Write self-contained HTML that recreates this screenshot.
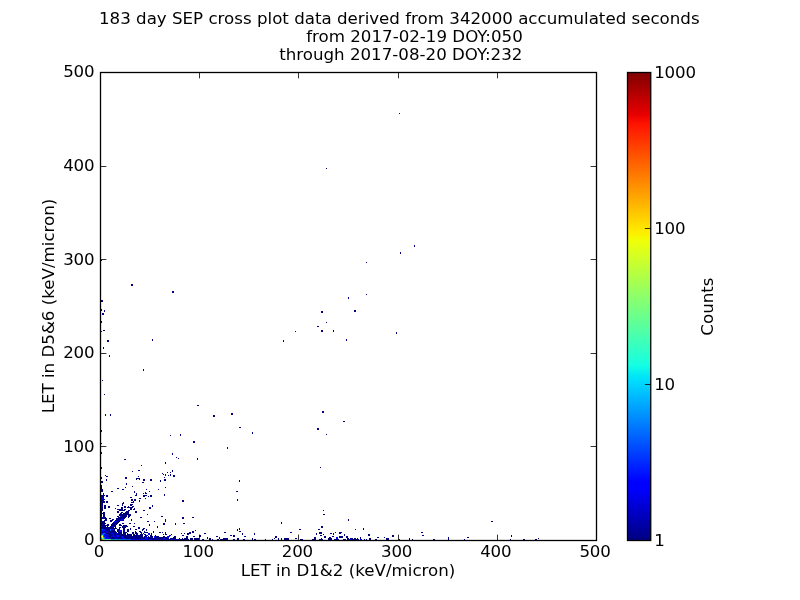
<!DOCTYPE html>
<html><head><meta charset="utf-8"><title>SEP cross plot</title>
<style>html,body{margin:0;padding:0;background:#fff}svg{display:block}</style></head>
<body>
<svg width="800" height="600" viewBox="0 0 800 600">
<defs>
<linearGradient id="jet" x1="0" y1="1" x2="0" y2="0">
<stop offset="0.0" stop-color="#000080"/>
<stop offset="0.11" stop-color="#0000ff"/>
<stop offset="0.125" stop-color="#0000ff"/>
<stop offset="0.34" stop-color="#00dbff"/>
<stop offset="0.35" stop-color="#00e5f7"/>
<stop offset="0.375" stop-color="#15ffe2"/>
<stop offset="0.64" stop-color="#efff08"/>
<stop offset="0.65" stop-color="#f7f600"/>
<stop offset="0.66" stop-color="#ffec00"/>
<stop offset="0.89" stop-color="#ff1300"/>
<stop offset="0.91" stop-color="#e80000"/>
<stop offset="1.0" stop-color="#800000"/>
</linearGradient>
</defs>
<rect width="800" height="600" fill="#fff"/>
<g id="data" shape-rendering="crispEdges">
<path fill="#000080" d="M399 113h1v1h-1zM326 168h1v1h-1zM414 245h1v1h-1zM414 246h1v1h-1zM400 252h1v1h-1zM400 253h1v1h-1zM101 260h1v1h-1zM366 262h1v1h-1zM131 284h2v1h-2zM131 285h2v1h-2zM172 291h2v1h-2zM172 292h2v1h-2zM366 294h1v1h-1zM348 297h1v1h-1zM348 298h1v1h-1zM101 300h2v1h-2zM101 301h2v1h-2zM101 309h1v1h-1zM101 310h1v1h-1zM104 310h1v1h-1zM354 310h2v1h-2zM104 311h1v1h-1zM321 311h2v1h-2zM354 311h2v1h-2zM321 312h2v1h-2zM102 313h2v1h-2zM102 314h2v1h-2zM101 321h1v1h-1zM101 322h1v1h-1zM326 322h1v1h-1zM317 326h2v1h-2zM103 330h2v1h-2zM321 330h2v1h-2zM333 330h1v1h-1zM101 331h1v1h-1zM295 331h1v1h-1zM321 331h2v1h-2zM333 331h1v1h-1zM396 332h1v1h-1zM396 333h1v1h-1zM152 339h1v1h-1zM346 339h1v1h-1zM107 340h2v1h-2zM152 340h1v1h-1zM283 340h1v1h-1zM346 340h1v1h-1zM107 341h2v1h-2zM283 341h1v1h-1zM103 347h1v1h-1zM103 348h1v1h-1zM109 355h1v1h-1zM109 356h1v1h-1zM143 369h1v1h-1zM143 370h1v1h-1zM102 380h1v1h-1zM104 394h1v1h-1zM197 405h2v1h-2zM322 411h2v1h-2zM322 412h2v1h-2zM231 413h2v1h-2zM105 414h1v1h-1zM110 414h1v1h-1zM231 414h2v1h-2zM105 415h1v1h-1zM110 415h1v1h-1zM213 415h2v1h-2zM213 416h2v1h-2zM343 421h2v1h-2zM239 427h2v1h-2zM317 428h2v1h-2zM317 429h2v1h-2zM101 430h1v1h-1zM101 431h1v1h-1zM252 432h1v1h-1zM252 433h1v1h-1zM180 434h1v1h-1zM326 434h1v1h-1zM170 435h1v1h-1zM180 435h1v1h-1zM193 441h2v1h-2zM193 442h2v1h-2zM101 443h1v1h-1zM227 447h1v1h-1zM227 448h1v1h-1zM101 452h1v1h-1zM101 453h1v1h-1zM172 453h1v1h-1zM172 454h1v1h-1zM176 457h1v1h-1zM178 458h1v1h-1zM197 458h1v1h-1zM124 459h2v1h-2zM197 459h1v1h-1zM165 462h1v1h-1zM165 463h1v1h-1zM141 465h1v1h-1zM101 467h1v1h-1zM320 467h1v1h-1zM101 468h1v1h-1zM138 470h2v1h-2zM172 470h1v1h-1zM132 471h1v1h-1zM172 471h1v1h-1zM167 472h1v1h-1zM170 472h1v1h-1zM162 473h1v1h-1zM163 474h1v1h-1zM165 474h1v1h-1zM170 474h1v1h-1zM105 475h1v1h-1zM165 475h1v1h-1zM168 475h1v1h-1zM170 475h1v1h-1zM173 475h2v1h-2zM106 476h2v1h-2zM138 476h1v1h-1zM173 476h2v1h-2zM101 477h1v1h-1zM125 477h2v1h-2zM164 477h1v1h-1zM101 478h1v1h-1zM125 478h2v1h-2zM136 478h4v1h-4zM106 479h1v1h-1zM136 479h1v1h-1zM139 479h1v1h-1zM143 479h2v1h-2zM150 479h2v1h-2zM164 479h2v1h-2zM106 480h1v1h-1zM143 480h2v1h-2zM150 480h2v1h-2zM160 480h1v1h-1zM164 480h2v1h-2zM239 480h1v1h-1zM101 481h2v1h-2zM160 481h1v1h-1zM239 481h1v1h-1zM101 482h2v1h-2zM142 482h2v1h-2zM126 483h1v1h-1zM126 484h1v1h-1zM101 485h1v1h-1zM101 486h1v1h-1zM132 486h1v1h-1zM101 487h1v1h-1zM125 487h1v1h-1zM165 487h1v1h-1zM101 488h1v1h-1zM117 488h2v1h-2zM101 489h2v1h-2zM122 489h2v1h-2zM146 489h1v1h-1zM158 489h1v1h-1zM101 490h2v1h-2zM101 491h2v1h-2zM111 491h2v1h-2zM134 491h1v1h-1zM149 491h1v1h-1zM236 491h2v1h-2zM134 492h1v1h-1zM145 492h1v1h-1zM103 493h1v1h-1zM136 493h1v1h-1zM143 493h1v1h-1zM145 493h2v1h-2zM103 494h1v1h-1zM136 494h1v1h-1zM164 494h1v1h-1zM101 495h4v1h-4zM106 495h2v1h-2zM135 495h2v1h-2zM143 495h4v1h-4zM150 495h2v1h-2zM164 495h1v1h-1zM102 496h2v1h-2zM106 496h2v1h-2zM143 496h2v1h-2zM148 496h1v1h-1zM150 496h2v1h-2zM101 497h1v1h-1zM103 497h1v1h-1zM130 497h2v1h-2zM103 498h1v1h-1zM139 498h2v1h-2zM145 498h1v1h-1zM103 499h2v1h-2zM131 499h2v1h-2zM134 499h2v1h-2zM237 499h1v1h-1zM102 500h2v1h-2zM131 500h2v1h-2zM134 500h2v1h-2zM139 500h1v1h-1zM182 500h2v1h-2zM237 500h1v1h-1zM101 501h4v1h-4zM106 501h2v1h-2zM133 501h1v1h-1zM139 501h1v1h-1zM182 501h2v1h-2zM102 502h3v1h-3zM106 502h2v1h-2zM123 502h1v1h-1zM131 502h3v1h-3zM102 503h1v1h-1zM122 503h2v1h-2zM101 504h1v1h-1zM122 504h1v1h-1zM130 504h3v1h-3zM104 505h2v1h-2zM117 505h2v1h-2zM122 505h1v1h-1zM130 505h2v1h-2zM152 505h1v1h-1zM104 506h2v1h-2zM108 506h2v1h-2zM124 506h2v1h-2zM128 506h1v1h-1zM132 506h2v1h-2zM152 506h1v1h-1zM102 507h1v1h-1zM104 507h2v1h-2zM108 507h2v1h-2zM121 507h2v1h-2zM124 507h2v1h-2zM127 507h6v1h-6zM149 507h2v1h-2zM102 508h1v1h-1zM104 508h2v1h-2zM115 508h1v1h-1zM121 508h2v1h-2zM130 508h2v1h-2zM134 508h1v1h-1zM149 508h2v1h-2zM102 509h1v1h-1zM117 509h6v1h-6zM124 509h2v1h-2zM130 509h2v1h-2zM133 509h2v1h-2zM101 510h2v1h-2zM119 510h6v1h-6zM128 510h2v1h-2zM143 510h2v1h-2zM323 510h1v1h-1zM101 511h1v1h-1zM117 511h2v1h-2zM126 511h3v1h-3zM135 511h2v1h-2zM101 512h1v1h-1zM103 512h2v1h-2zM117 512h2v1h-2zM121 512h2v1h-2zM125 512h4v1h-4zM135 512h2v1h-2zM102 513h3v1h-3zM120 513h2v1h-2zM123 513h6v1h-6zM101 514h1v1h-1zM103 514h2v1h-2zM119 514h12v1h-12zM147 514h1v1h-1zM323 514h2v1h-2zM101 515h1v1h-1zM103 515h2v1h-2zM119 515h8v1h-8zM128 515h3v1h-3zM103 516h2v1h-2zM117 516h2v1h-2zM122 516h5v1h-5zM128 516h2v1h-2zM161 516h2v1h-2zM104 517h2v1h-2zM118 517h8v1h-8zM128 517h1v1h-1zM140 517h2v1h-2zM182 517h2v1h-2zM192 517h2v1h-2zM101 518h6v1h-6zM109 518h2v1h-2zM116 518h6v1h-6zM124 518h1v1h-1zM182 518h2v1h-2zM101 519h1v1h-1zM105 519h2v1h-2zM112 519h2v1h-2zM116 519h5v1h-5zM131 519h1v1h-1zM165 519h1v1h-1zM348 519h1v1h-1zM101 520h1v1h-1zM104 520h3v1h-3zM110 520h3v1h-3zM115 520h5v1h-5zM123 520h1v1h-1zM131 520h1v1h-1zM165 520h1v1h-1zM348 520h1v1h-1zM101 521h4v1h-4zM110 521h2v1h-2zM117 521h3v1h-3zM147 521h2v1h-2zM154 521h1v1h-1zM165 521h1v1h-1zM491 521h2v1h-2zM101 522h4v1h-4zM113 522h1v1h-1zM116 522h3v1h-3zM281 522h1v1h-1zM101 523h5v1h-5zM112 523h6v1h-6zM122 523h2v1h-2zM129 523h2v1h-2zM134 523h1v1h-1zM163 523h2v1h-2zM175 523h1v1h-1zM183 523h2v1h-2zM281 523h1v1h-1zM101 524h4v1h-4zM107 524h2v1h-2zM111 524h4v1h-4zM116 524h1v1h-1zM119 524h2v1h-2zM149 524h1v1h-1zM163 524h2v1h-2zM175 524h1v1h-1zM101 525h8v1h-8zM111 525h5v1h-5zM119 525h3v1h-3zM123 525h4v1h-4zM149 525h1v1h-1zM103 526h3v1h-3zM107 526h1v1h-1zM110 526h2v1h-2zM113 526h3v1h-3zM122 526h6v1h-6zM133 526h2v1h-2zM157 526h1v1h-1zM321 526h2v1h-2zM101 527h13v1h-13zM115 527h1v1h-1zM119 527h2v1h-2zM122 527h4v1h-4zM138 527h2v1h-2zM157 527h1v1h-1zM321 527h2v1h-2zM103 528h14v1h-14zM119 528h1v1h-1zM123 528h2v1h-2zM130 528h1v1h-1zM138 528h2v1h-2zM143 528h2v1h-2zM239 528h1v1h-1zM363 528h1v1h-1zM105 529h5v1h-5zM114 529h1v1h-1zM117 529h3v1h-3zM123 529h2v1h-2zM127 529h2v1h-2zM130 529h1v1h-1zM135 529h2v1h-2zM142 529h2v1h-2zM146 529h1v1h-1zM237 529h1v1h-1zM239 529h1v1h-1zM299 529h2v1h-2zM318 529h2v1h-2zM355 529h1v1h-1zM363 529h1v1h-1zM105 530h5v1h-5zM111 530h4v1h-4zM117 530h2v1h-2zM127 530h2v1h-2zM142 530h1v1h-1zM146 530h1v1h-1zM195 530h1v1h-1zM237 530h1v1h-1zM104 531h2v1h-2zM107 531h9v1h-9zM117 531h2v1h-2zM127 531h2v1h-2zM135 531h1v1h-1zM139 531h2v1h-2zM144 531h1v1h-1zM153 531h1v1h-1zM192 531h2v1h-2zM239 531h2v1h-2zM108 532h1v1h-1zM110 532h7v1h-7zM118 532h4v1h-4zM123 532h4v1h-4zM132 532h2v1h-2zM135 532h2v1h-2zM140 532h2v1h-2zM144 532h4v1h-4zM153 532h1v1h-1zM159 532h2v1h-2zM162 532h1v1h-1zM165 532h1v1h-1zM189 532h2v1h-2zM192 532h2v1h-2zM224 532h2v1h-2zM290 532h2v1h-2zM319 532h3v1h-3zM335 532h1v1h-1zM339 532h3v1h-3zM421 532h2v1h-2zM106 533h5v1h-5zM113 533h3v1h-3zM117 533h5v1h-5zM123 533h3v1h-3zM127 533h1v1h-1zM132 533h2v1h-2zM135 533h3v1h-3zM141 533h1v1h-1zM143 533h1v1h-1zM151 533h1v1h-1zM165 533h1v1h-1zM181 533h1v1h-1zM184 533h1v1h-1zM187 533h4v1h-4zM204 533h2v1h-2zM242 533h1v1h-1zM254 533h1v1h-1zM316 533h1v1h-1zM319 533h3v1h-3zM330 533h2v1h-2zM333 533h1v1h-1zM339 533h2v1h-2zM108 534h3v1h-3zM114 534h12v1h-12zM127 534h5v1h-5zM133 534h2v1h-2zM136 534h2v1h-2zM140 534h3v1h-3zM144 534h2v1h-2zM151 534h1v1h-1zM163 534h1v1h-1zM165 534h2v1h-2zM171 534h1v1h-1zM187 534h2v1h-2zM242 534h1v1h-1zM254 534h1v1h-1zM316 534h1v1h-1zM323 534h1v1h-1zM333 534h1v1h-1zM344 534h1v1h-1zM368 534h2v1h-2zM109 535h3v1h-3zM114 535h2v1h-2zM119 535h13v1h-13zM133 535h10v1h-10zM145 535h1v1h-1zM147 535h1v1h-1zM150 535h2v1h-2zM155 535h1v1h-1zM182 535h2v1h-2zM199 535h2v1h-2zM230 535h2v1h-2zM233 535h2v1h-2zM320 535h2v1h-2zM344 535h1v1h-1zM368 535h2v1h-2zM392 535h2v1h-2zM422 535h2v1h-2zM511 535h1v1h-1zM107 536h4v1h-4zM115 536h1v1h-1zM119 536h2v1h-2zM123 536h4v1h-4zM128 536h15v1h-15zM144 536h3v1h-3zM148 536h1v1h-1zM150 536h3v1h-3zM155 536h4v1h-4zM163 536h2v1h-2zM174 536h2v1h-2zM186 536h2v1h-2zM193 536h2v1h-2zM199 536h2v1h-2zM216 536h2v1h-2zM233 536h2v1h-2zM244 536h2v1h-2zM275 536h2v1h-2zM324 536h2v1h-2zM332 536h2v1h-2zM339 536h4v1h-4zM346 536h2v1h-2zM392 536h2v1h-2zM511 536h1v1h-1zM110 537h3v1h-3zM115 537h6v1h-6zM124 537h9v1h-9zM135 537h8v1h-8zM144 537h1v1h-1zM148 537h5v1h-5zM155 537h12v1h-12zM173 537h3v1h-3zM186 537h2v1h-2zM207 537h1v1h-1zM219 537h1v1h-1zM275 537h2v1h-2zM314 537h2v1h-2zM324 537h2v1h-2zM329 537h2v1h-2zM339 537h4v1h-4zM346 537h2v1h-2zM360 537h1v1h-1zM377 537h2v1h-2zM384 537h1v1h-1zM448 537h1v1h-1zM467 537h2v1h-2zM111 538h4v1h-4zM117 538h5v1h-5zM125 538h4v1h-4zM130 538h3v1h-3zM135 538h6v1h-6zM142 538h1v1h-1zM144 538h1v1h-1zM148 538h15v1h-15zM165 538h4v1h-4zM170 538h6v1h-6zM179 538h1v1h-1zM182 538h1v1h-1zM184 538h4v1h-4zM190 538h3v1h-3zM194 538h5v1h-5zM207 538h1v1h-1zM209 538h2v1h-2zM219 538h1v1h-1zM223 538h5v1h-5zM237 538h2v1h-2zM252 538h1v1h-1zM274 538h1v1h-1zM278 538h1v1h-1zM281 538h1v1h-1zM284 538h5v1h-5zM295 538h2v1h-2zM314 538h2v1h-2zM321 538h1v1h-1zM328 538h4v1h-4zM347 538h2v1h-2zM350 538h3v1h-3zM354 538h2v1h-2zM357 538h1v1h-1zM360 538h1v1h-1zM369 538h2v1h-2zM386 538h3v1h-3zM409 538h1v1h-1zM448 538h1v1h-1zM538 538h1v1h-1zM180 539h9v1h-9zM190 539h3v1h-3zM194 539h5v1h-5zM202 539h2v1h-2zM209 539h2v1h-2zM212 539h1v1h-1zM217 539h2v1h-2zM220 539h8v1h-8zM233 539h2v1h-2zM237 539h2v1h-2zM243 539h2v1h-2zM252 539h1v1h-1zM254 539h2v1h-2zM265 539h1v1h-1zM272 539h1v1h-1zM278 539h1v1h-1zM281 539h1v1h-1zM284 539h5v1h-5zM300 539h3v1h-3zM312 539h4v1h-4zM319 539h4v1h-4zM328 539h4v1h-4zM334 539h5v1h-5zM343 539h3v1h-3zM347 539h2v1h-2zM351 539h8v1h-8zM364 539h1v1h-1zM366 539h1v1h-1zM369 539h2v1h-2zM375 539h2v1h-2zM386 539h3v1h-3zM399 539h1v1h-1zM409 539h1v1h-1zM412 539h1v1h-1zM433 539h2v1h-2zM448 539h1v1h-1zM464 539h1v1h-1zM510 539h1v1h-1zM523 539h2v1h-2zM535 539h2v1h-2z"/>
<path fill="#0000c4" d="M102 497h1v1h-1zM101 498h2v1h-2zM101 499h2v1h-2zM101 500h1v1h-1zM102 504h1v1h-1zM102 505h1v1h-1zM102 506h1v1h-1zM101 507h1v1h-1zM101 508h1v1h-1zM101 509h1v1h-1zM101 513h1v1h-1zM101 516h1v1h-1zM101 517h2v1h-2zM122 518h2v1h-2zM120 520h3v1h-3zM114 522h2v1h-2zM115 524h1v1h-1zM101 526h2v1h-2zM101 528h2v1h-2zM123 530h2v1h-2zM103 531h1v1h-1zM123 531h2v1h-2zM102 532h5v1h-5zM107 534h1v1h-1zM111 534h2v1h-2zM105 535h2v1h-2zM108 535h1v1h-1zM112 535h1v1h-1zM112 536h1v1h-1zM114 536h1v1h-1zM127 536h1v1h-1zM106 537h2v1h-2zM109 537h1v1h-1zM113 537h2v1h-2zM133 537h2v1h-2zM109 538h2v1h-2zM129 538h1v1h-1zM133 538h2v1h-2zM152 539h28v1h-28z"/>
<path fill="#0008ff" d="M101 496h1v1h-1zM101 502h1v1h-1zM101 503h1v1h-1zM101 505h1v1h-1zM101 506h1v1h-1zM120 516h2v1h-2zM103 517h1v1h-1zM121 519h3v1h-3zM114 521h3v1h-3zM112 526h1v1h-1zM101 529h1v1h-1zM103 529h2v1h-2zM111 529h3v1h-3zM101 530h4v1h-4zM119 530h3v1h-3zM101 531h2v1h-2zM106 531h1v1h-1zM119 531h3v1h-3zM101 532h1v1h-1zM107 532h1v1h-1zM109 532h1v1h-1zM101 533h2v1h-2zM105 533h1v1h-1zM111 533h2v1h-2zM116 533h1v1h-1zM148 533h2v1h-2zM104 534h3v1h-3zM113 534h1v1h-1zM148 534h2v1h-2zM104 535h1v1h-1zM107 535h1v1h-1zM113 535h1v1h-1zM116 535h3v1h-3zM146 535h1v1h-1zM169 535h2v1h-2zM104 536h3v1h-3zM111 536h1v1h-1zM113 536h1v1h-1zM116 536h3v1h-3zM121 536h2v1h-2zM154 536h1v1h-1zM167 536h3v1h-3zM105 537h1v1h-1zM108 537h1v1h-1zM121 537h3v1h-3zM143 537h1v1h-1zM145 537h3v1h-3zM154 537h1v1h-1zM167 537h2v1h-2zM336 537h2v1h-2zM105 538h4v1h-4zM115 538h2v1h-2zM122 538h3v1h-3zM141 538h1v1h-1zM143 538h1v1h-1zM145 538h3v1h-3zM163 538h2v1h-2zM336 538h2v1h-2zM131 539h21v1h-21zM349 539h2v1h-2zM360 539h2v1h-2z"/>
<path fill="#0068ff" d="M102 529h1v1h-1zM110 529h1v1h-1zM110 530h1v1h-1zM103 533h2v1h-2zM101 534h3v1h-3zM103 535h1v1h-1zM103 536h1v1h-1zM104 537h1v1h-1zM104 538h1v1h-1zM121 539h10v1h-10z"/>
<path fill="#00a0e0" d="M111 539h10v1h-10z"/>
<path fill="#00d0ff" d="M101 535h1v1h-1zM103 537h1v1h-1zM103 538h1v1h-1z"/>
<path fill="#5cffa0" d="M102 535h1v1h-1zM102 538h1v1h-1zM103 539h8v1h-8z"/>
<path fill="#dcff1c" d="M101 536h2v1h-2zM102 537h1v1h-1z"/>
<path fill="#ff9800" d="M101 537h1v1h-1zM102 539h1v1h-1z"/>
<path fill="#ff3000" d="M101 538h1v1h-1zM101 539h1v1h-1z"/>
</g>
<rect x="627.5" y="72.5" width="23.25" height="468.0" fill="url(#jet)" stroke="#000" stroke-width="1.3"/>
<rect x="100.5" y="72.5" width="496.0" height="468.0" fill="none" stroke="#000" stroke-width="1.3"/>
<path d="M100.50 540.5v-5.9M100.50 72.5v5.9M100.5 540.50h5.9M596.5 540.50h-5.9M199.50 540.5v-5.9M199.50 72.5v5.9M100.5 446.50h5.9M596.5 446.50h-5.9M298.50 540.5v-5.9M298.50 72.5v5.9M100.5 353.50h5.9M596.5 353.50h-5.9M398.50 540.5v-5.9M398.50 72.5v5.9M100.5 259.50h5.9M596.5 259.50h-5.9M497.50 540.5v-5.9M497.50 72.5v5.9M100.5 166.50h5.9M596.5 166.50h-5.9M596.50 540.5v-5.9M596.50 72.5v5.9M100.5 72.50h5.9M596.5 72.50h-5.9M650.75 540.50h-5.9M650.75 384.50h-5.9M650.75 228.50h-5.9M650.75 72.50h-5.9" stroke="#000" stroke-opacity="0.8" stroke-width="1" fill="none"/>
<g font-family="'DejaVu Sans', 'Liberation Sans', sans-serif" font-size="16.67px" fill="#000">
<text x="99" y="24" id="t1">183 day SEP cross plot data derived from 342000 accumulated seconds</text>
<text x="306.2" y="42" id="t2">from 2017-02-19 DOY:050</text>
<text x="279.2" y="60" id="t3">through 2017-08-20 DOY:232</text>
<text x="99.00" y="556.5" text-anchor="middle" class="xt" letter-spacing="-0.2">0</text>
<text x="94.4" y="545.30" text-anchor="end" class="yt" letter-spacing="-0.2">0</text>
<text x="198.20" y="556.5" text-anchor="middle" class="xt" letter-spacing="-0.2">100</text>
<text x="94.4" y="451.70" text-anchor="end" class="yt" letter-spacing="-0.2">100</text>
<text x="297.40" y="556.5" text-anchor="middle" class="xt" letter-spacing="-0.2">200</text>
<text x="94.4" y="358.10" text-anchor="end" class="yt" letter-spacing="-0.2">200</text>
<text x="396.60" y="556.5" text-anchor="middle" class="xt" letter-spacing="-0.2">300</text>
<text x="94.4" y="264.50" text-anchor="end" class="yt" letter-spacing="-0.2">300</text>
<text x="495.80" y="556.5" text-anchor="middle" class="xt" letter-spacing="-0.2">400</text>
<text x="94.4" y="170.90" text-anchor="end" class="yt" letter-spacing="-0.2">400</text>
<text x="595.00" y="556.5" text-anchor="middle" class="xt" letter-spacing="-0.2">500</text>
<text x="94.4" y="77.30" text-anchor="end" class="yt" letter-spacing="-0.2">500</text>
<text x="654.2" y="545.50" class="ct" letter-spacing="-0.2">1</text>
<text x="654.2" y="389.50" class="ct" letter-spacing="-0.2">10</text>
<text x="654.2" y="233.50" class="ct" letter-spacing="-0.2">100</text>
<text x="654.2" y="77.50" class="ct" letter-spacing="-0.2">1000</text>
<text x="348" y="575.6" text-anchor="middle" id="xl">LET in D1&amp;2 (keV/micron)</text>
<text transform="translate(53.6 306) rotate(-90)" text-anchor="middle" id="yl">LET in D5&amp;6 (keV/micron)</text>
<text transform="translate(713 306.6) rotate(-90)" text-anchor="middle" id="cl">Counts</text>
</g>
</svg>
</body></html>
